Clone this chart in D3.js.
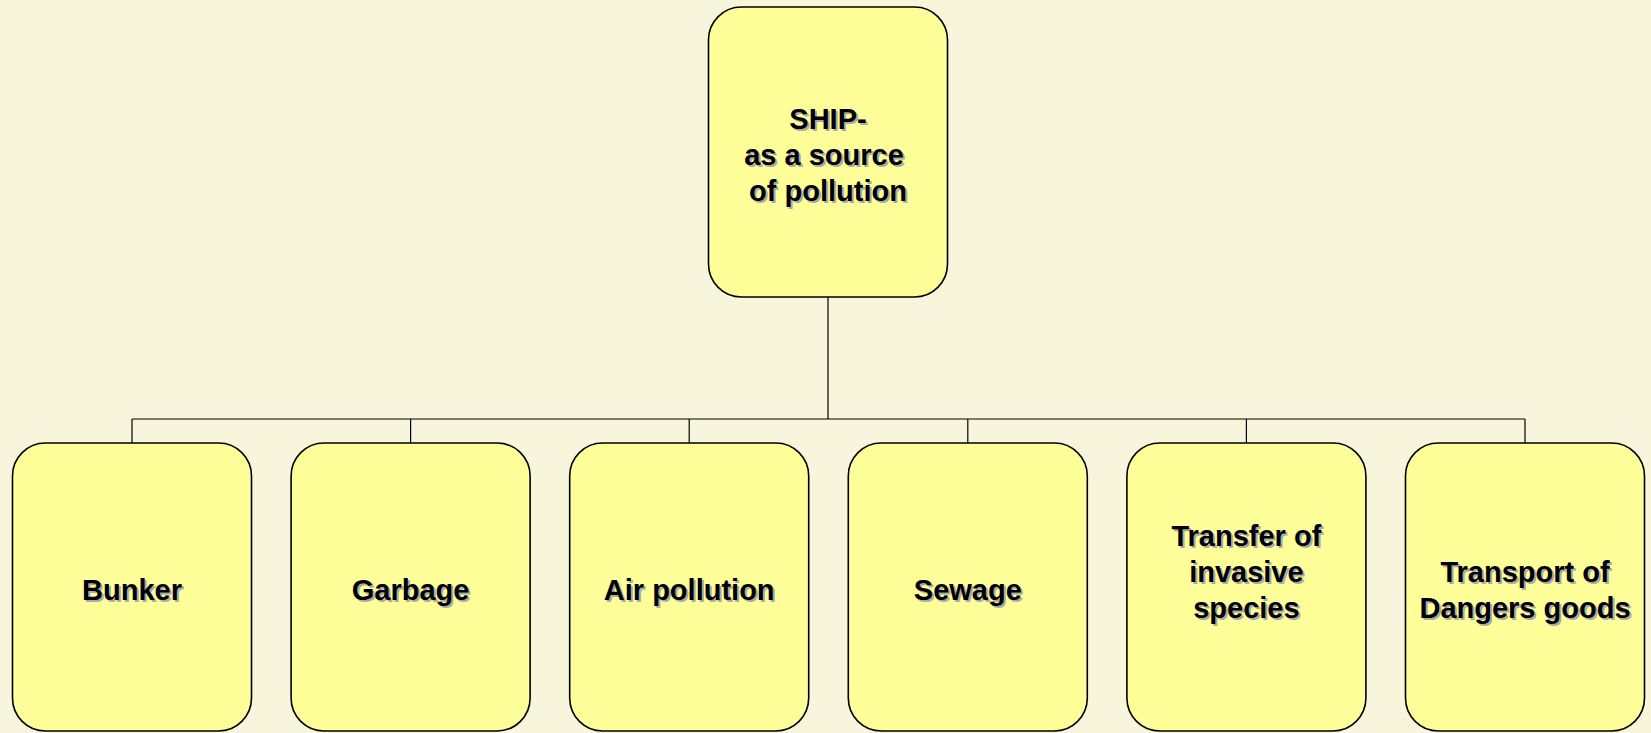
<!doctype html>
<html>
<head>
    <meta charset="utf-8">
    <title>Ship as a source of pollution</title>
    <style>
        body {
            margin: 0;
            background: #F7F5DC;
        }
        text {
            font-family: 'Liberation Sans', Arial, sans-serif;
            font-weight: bold;
            font-size: 29px;
        }
    </style>
</head>
<body>
    <div id="chart"></div>

    <script src="https://cdnjs.cloudflare.com/ajax/libs/d3/7.8.5/d3.min.js"></script>
    <script>

        // tree content
        var rootLabel = "SHIP-\nas a source \nof pollution";
        var childLabels = ["Bunker", "Garbage", "Air pollution", "Sewage", "Transfer of\ninvasive\nspecies\n", "Transport of\nDangers goods"];

        var width = 1651;
        var height = 733;

        var boxW = 239;
        var rootTop = 7, rootBottom = 297;
        var childTop = 443, childBottom = 731;
        var busY = 419;
        var radius = 33;
        var lineH = 36;

        var svg = d3.select("#chart").append("svg").attr("width", width).attr("height", height);

        svg.append("rect").attr("width", width).attr("height", height).attr("fill", "#F7F5DC");

        var xScale = d3.scalePoint().domain(childLabels).range([132, 1525]);
        var rootX = 828;

        // connectors
        var links = svg.append("g").attr("class", "links")
            .attr("stroke", "#000").attr("stroke-width", 1.2).attr("fill", "none");

        links.append("line")
            .attr("x1", rootX).attr("x2", rootX)
            .attr("y1", rootBottom).attr("y2", busY);

        links.append("line")
            .attr("x1", xScale(childLabels[0])).attr("x2", xScale(childLabels[childLabels.length - 1]))
            .attr("y1", busY).attr("y2", busY);

        links.selectAll("line.drop")
            .data(childLabels)
            .join("line")
            .attr("class", "drop")
            .attr("x1", d => xScale(d)).attr("x2", d => xScale(d))
            .attr("y1", busY).attr("y2", childTop);

        // nodes
        var nodes = [{ label: rootLabel, x: rootX, top: rootTop, bottom: rootBottom }]
            .concat(childLabels.map(d => ({ label: d, x: xScale(d), top: childTop, bottom: childBottom })));

        var node = svg.append("g").attr("class", "nodes")
            .selectAll("g")
            .data(nodes)
            .join("g");

        node.append("rect")
            .attr("x", d => d.x - boxW / 2)
            .attr("y", d => d.top)
            .attr("width", boxW)
            .attr("height", d => d.bottom - d.top)
            .attr("rx", radius)
            .attr("ry", radius)
            .attr("fill", "#FFFF99")
            .attr("stroke", "#000")
            .attr("stroke-width", 1.6);

        function drawLabel(g, d, dx, dy, color) {
            var lines = d.label.split("\n");
            var mid = (d.top + d.bottom) / 2;
            var first = mid + 13 - (lines.length - 1) * lineH / 2;
            var t = g.append("text")
                .attr("text-anchor", "middle")
                .attr("fill", color);
            lines.forEach(function (l, i) {
                t.append("tspan")
                    .attr("x", d.x + dx)
                    .attr("y", first + i * lineH + dy)
                    .text(l);
            });
        }

        node.each(function (d) {
            var g = d3.select(this);
            drawLabel(g, d, 2, 2, "#ABABA6");   // shadow
            drawLabel(g, d, 0, 0, "#000");
        });

    </script>
</body>
</html>
